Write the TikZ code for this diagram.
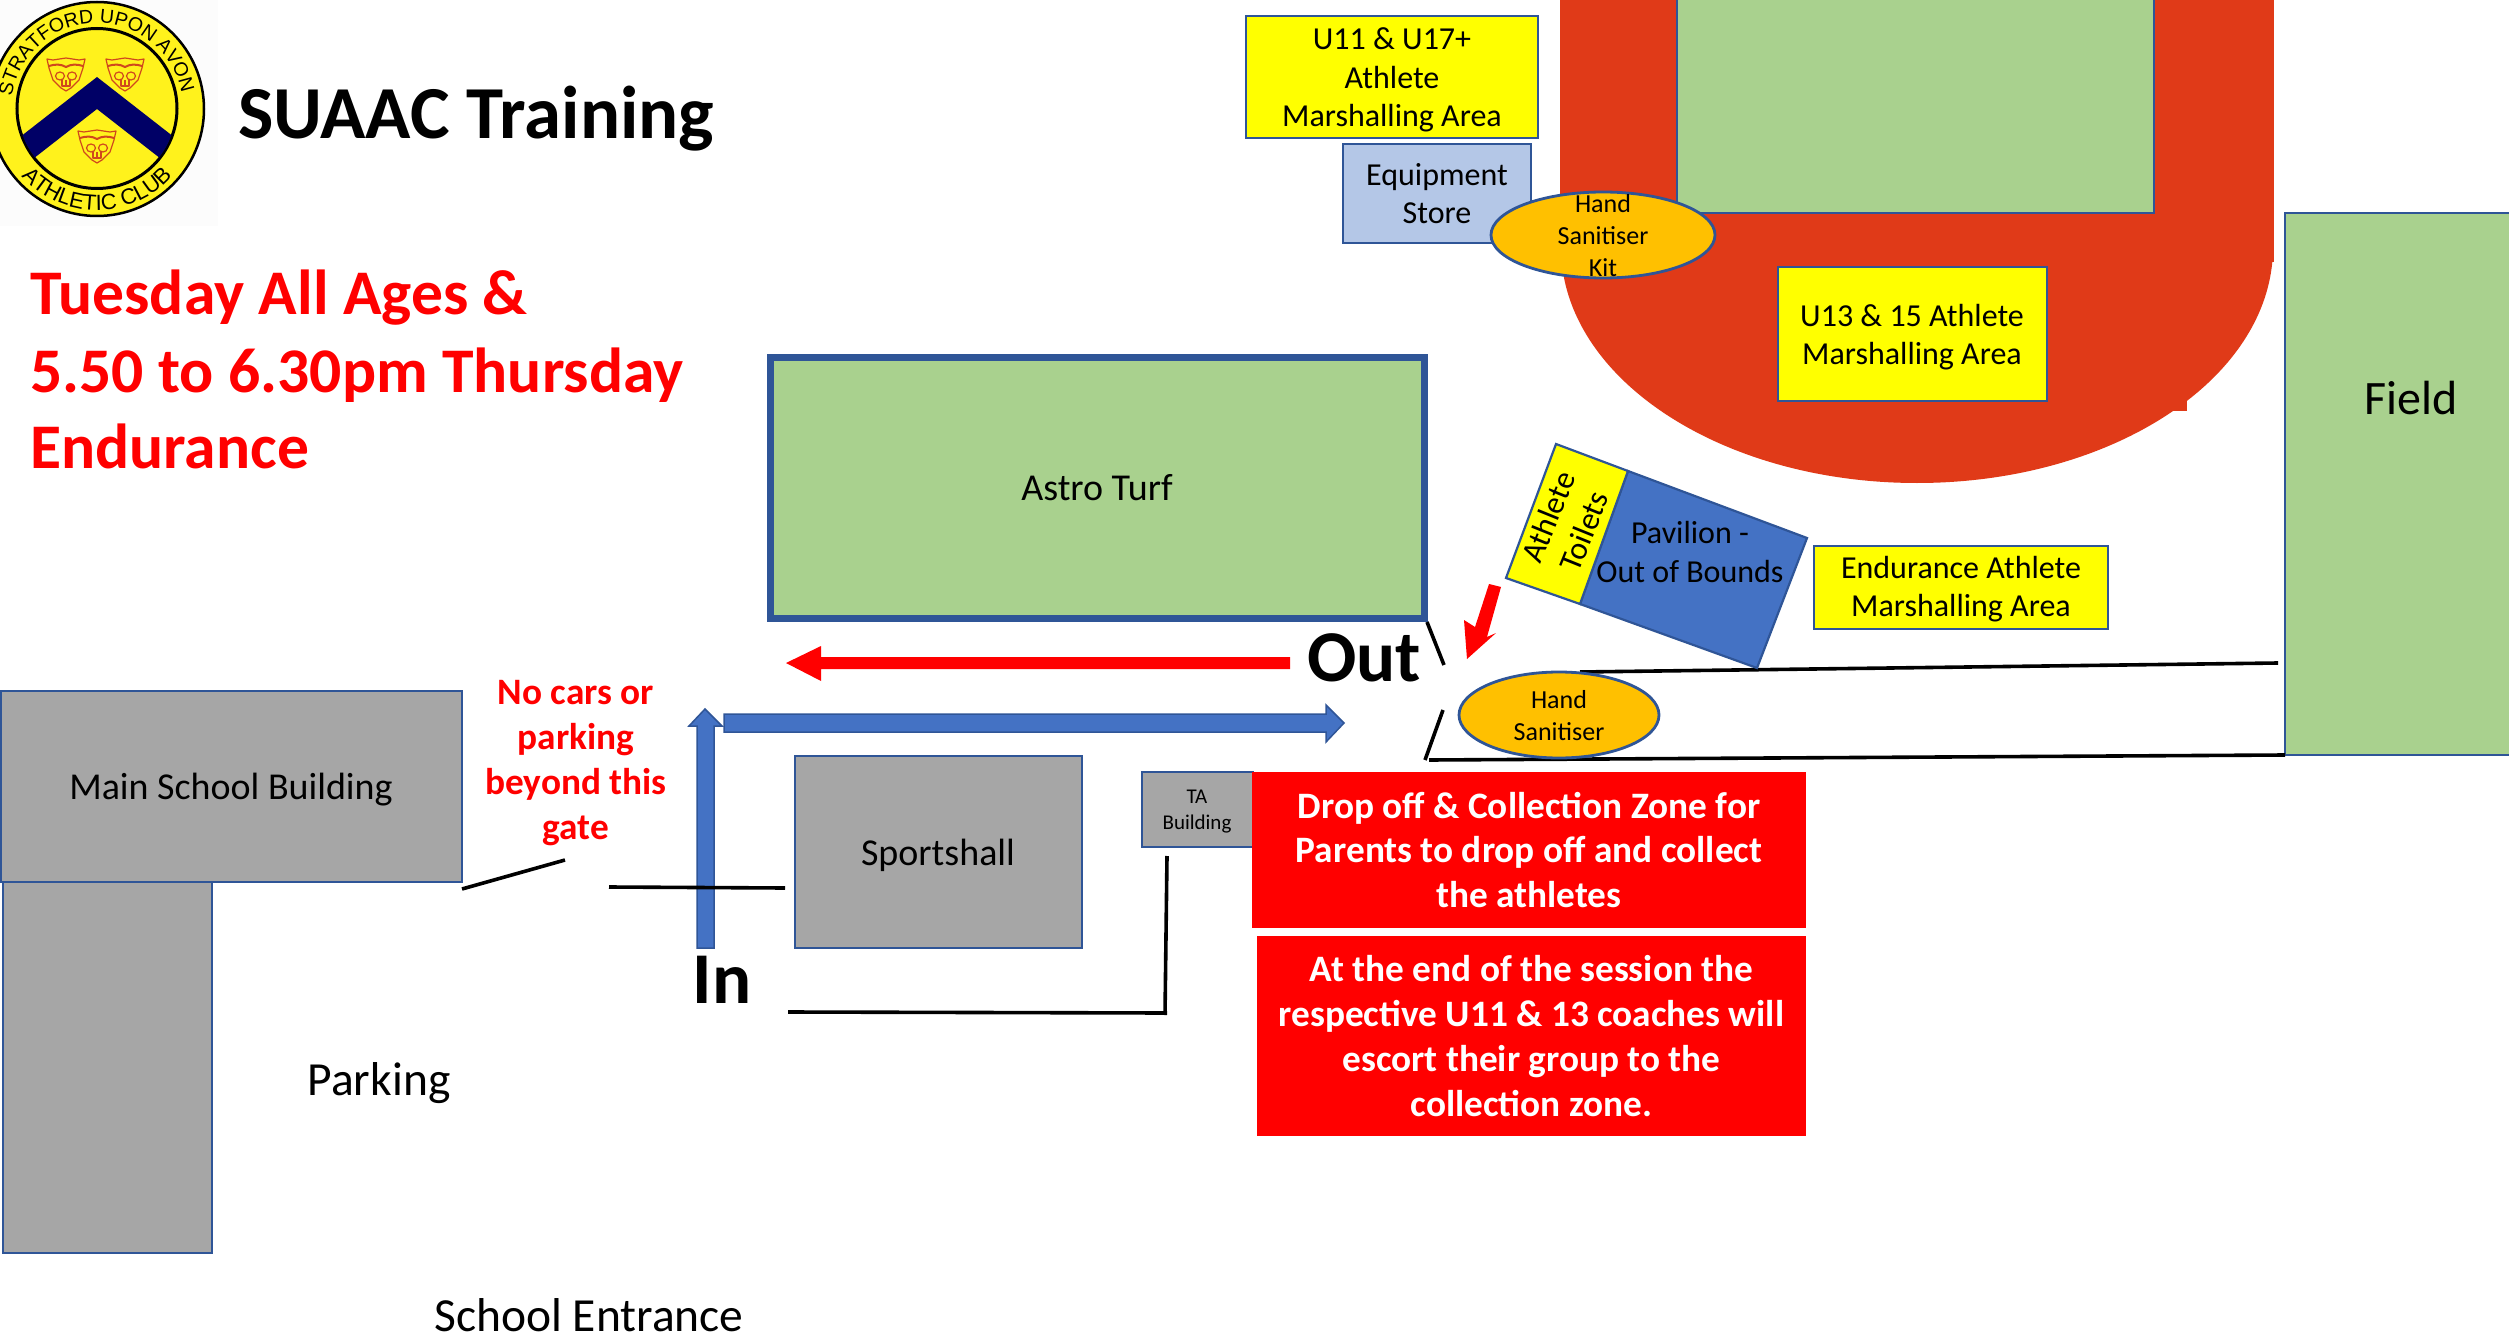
\documentclass[tikz,border=0pt]{standalone}
\usepackage{fontspec}
\setmainfont{Carlito}
\newfontfamily\logofont{Liberation Sans}
\usetikzlibrary{decorations.text}
\definecolor{edge}{HTML}{2F5597}
\definecolor{lawn}{HTML}{A9D18E}
\definecolor{track}{HTML}{E03A18}
\definecolor{greyb}{HTML}{A6A6A6}
\definecolor{paleb}{HTML}{B4C7E7}
\definecolor{midb}{HTML}{4472C4}
\definecolor{amber}{HTML}{FFC000}
\definecolor{logoy}{HTML}{FFF21C}
\definecolor{logon}{HTML}{000066}
\definecolor{logor}{HTML}{D0481C}
\definecolor{pureyellow}{RGB}{255,255,0}
\definecolor{purered}{RGB}{255,0,0}
\newcommand{\fs}[1]{\fontsize{#1}{#1}\selectfont}
\tikzset{
  x=1pt,y=-1pt,
  shape box/.style={draw=edge,line width=2.8pt},
  txt/.style={inner sep=0pt,align=center,font=\fontsize{32}{38.4}\selectfont,text=black},
  bigtxt/.style={inner sep=0pt,align=center,font=\fontsize{38}{38}\selectfont,text=black},
  smalltxt/.style={inner sep=0pt,align=center,font=\fontsize{26}{32}\selectfont,text=black},
  redhead/.style={inner sep=0pt,align=center,font=\fontsize{37.3}{44.8}\selectfont\bfseries,text=white},
  wall/.style={draw=black,line width=3.6pt},
  pantherline/.style={draw=logor,line width=1.2pt,line join=round},
}
\newcommand{\panther}[2]{%
\begin{scope}[shift={(#1,#2)}]
\draw[pantherline,fill=logoy] (-19,-15)--(-13,-14)--(0,-16)--(13,-14)--(19,-15)--(17,-6)--(13,6)--(5,14)--(0,17)--(-5,14)--(-13,6)--(-17,-6)--cycle;
\draw[draw=logor,line width=2pt] (-17,-8) .. controls (-11,-10) and (-5,-10) .. (0,-7) .. controls (5,-10) and (11,-10) .. (17,-8);
\draw[pantherline] (-6,2) ellipse [x radius=4.5,y radius=4];
\draw[pantherline] (6,2) ellipse [x radius=4.5,y radius=4];
\draw[pantherline] (-4,5)--(-4,12)--(4,12)--(4,5) (0,6)--(0,12);
\end{scope}}
\begin{document}
\begin{tikzpicture}
\useasboundingbox (0,0) rectangle (2509,1340);
\fill[white] (0,0) rectangle (2509,1340);

% logo
\fill[black!1] (0,0) rectangle (218,226);
\begin{scope}
\clip (0,0) rectangle (218,226);
\draw[fill=logoy,draw=black,line width=2.5pt] (97,109) circle [radius=107pt];
\draw[draw=black,line width=3pt] (97,108.5) circle [radius=80pt];
\begin{scope}
\clip (97,108.5) circle [radius=79pt];
\fill[logon] (97,77)--(197,155)--(197,187)--(97,109)--(-3,187)--(-3,155)--cycle;
\end{scope}
\end{scope}
\panther{66}{74}\panther{125}{74}\panther{97}{146}
\path[decorate,decoration={text along path,text align=center,text={|\logofont\fontsize{19.5}{19.5}\selectfont|STRATFORD UPON AVON}}]
  (97,109) ++(176:86pt) arc [start angle=176,end angle=6,radius=86pt];
\path[decorate,decoration={text along path,text align=center,text={|\logofont\fontsize{22}{22}\selectfont|ATHLETIC CLUB}}]
  (97,109) ++(215:101pt) arc [start angle=215,end angle=325,radius=101pt];

% titles
\node[anchor=base west,inner sep=0pt,font=\fs{74.8}\bfseries] (title) at (238,139) {SUAAC Training};
\node[anchor=base west,inner sep=0pt,font=\fs{63.6}\bfseries,text=purered] (when1) at (30,315) {Tuesday All Ages \&};
\node[anchor=base west,inner sep=0pt,font=\fs{63.6}\bfseries,text=purered] (when2) at (30,392) {5.50 to 6.30pm Thursday};
\node[anchor=base west,inner sep=0pt,font=\fs{63.6}\bfseries,text=purered] (when3) at (30,468) {Endurance};

% running track
\fill[track] (1560,0) rectangle (2274,262);
\fill[track] (1917,247) ellipse [x radius=356,y radius=236];
\fill[track] (2150,380) rectangle (2187,411);
\draw[shape box,fill=lawn] (1677,-5) rectangle (2154,213);

% top left boxes
\draw[shape box,fill=pureyellow] (1246,16) rectangle (1538,138);
\node[txt] (u11) at (1392,80) {U11 \& U17+\\Athlete\\Marshalling Area};
\draw[shape box,fill=paleb] (1343,144) rectangle node[txt] (store) {Equipment\\Store} (1531,243);
\draw[shape box,fill=amber] (1603,235) ellipse [x radius=112,y radius=43];
\node[smalltxt] (kit) at (1603,236) {Hand\\Sanitiser\\Kit};
\draw[shape box,fill=pureyellow] (1778,267) rectangle (2047,401);
\node[txt] (u13) at (1912,337) {U13 \& 15 Athlete\\Marshalling Area};

% field
\draw[shape box,fill=lawn] (2285,213) rectangle (2520,755);
\node[inner sep=0pt,font=\fs{48}] (field) at (2411,398) {Field};

% astro turf
\draw[draw=edge,line width=7pt,fill=lawn] (770,357) rectangle node[bigtxt] (astro) {Astro Turf} (1424,618);

% walls behind sanitiser
\draw[wall] (1580,672)--(2278,663);
\draw[wall] (1429,760)--(2285,755);
\draw[wall] (1427,622)--(1444,665);
\draw[wall] (1443,710)--(1425,760);

% pavilion
\draw[draw=edge,line width=2.2pt,fill=midb] (1628,471)--(1807,538)--(1757,668)--(1580,604)--cycle;
\draw[draw=edge,line width=2.2pt,fill=pureyellow] (1556,444)--(1628,471)--(1580,604)--(1506,578)--cycle;
\node[txt,rotate=68] (toilets) at (1566,524) {Athlete\\Toilets};
\node[txt] (pavilion) at (1690,552) {Pavilion -\\Out of Bounds};

% endurance marshalling
\draw[shape box,fill=pureyellow] (1814,546) rectangle (2108,629);
\node[txt] (endurance) at (1961,589) {Endurance Athlete\\Marshalling Area};

% hand sanitiser
\draw[shape box,fill=amber] (1559,715) ellipse [x radius=100,y radius=43];
\node[smalltxt] (sanit) at (1559,716) {Hand\\Sanitiser};

% red direction arrows
\fill[purered] (1290,657)--(821,657)--(821,646)--(786,663)--(821,681)--(821,669)--(1290,669)--cycle;
\fill[purered] (1489,584)--(1501,587)--(1487,637)--(1496,633)--(1467,659)--(1464,620)--(1475,627)--cycle;

% blue direction arrows
\draw[draw=edge,line width=1.5pt,fill=midb] (697,948)--(697,726)--(689,726)--(705,709)--(722,726)--(714,726)--(714,948)--cycle;
\draw[draw=edge,line width=1.5pt,fill=midb] (724,714)--(1326,714)--(1326,705)--(1344,723)--(1326,742)--(1326,732)--(724,732)--cycle;

\node[inner sep=0pt,font=\fs{73}\bfseries] (out) at (1364,658) {Out};
\node[inner sep=0pt,font=\fs{73}\bfseries] (in) at (722,980) {In};

% buildings
\draw[shape box,fill=greyb] (1,691) rectangle (462,882);
\node[bigtxt] (main) at (231,790) {Main School Building};
\draw[shape box,fill=greyb] (3,882) rectangle (212,1253);
\draw[shape box,fill=greyb] (795,756) rectangle (1082,948);
\node[bigtxt] (sports) at (938,855) {Sportshall};
\draw[shape box,fill=greyb] (1142,772) rectangle (1253,847);
\node[inner sep=0pt,align=center,font=\fontsize{21}{26}\selectfont] (ta) at (1197,812) {TA\\Building};

% gates and lane
\draw[wall] (462,889)--(565,860);
\draw[wall] (609,887)--(785,888);
\draw[wall] (1167,856)--(1165,1015);
\draw[wall] (788,1012)--(1167,1013);

\node[redhead,text=purered] (nocars) at (576,763) {No cars or\\parking\\beyond this\\gate};

% red panels
\fill[purered] (1252,772) rectangle node[redhead] (drop) {Drop off \& Collection Zone for\\Parents to drop off and collect\\the athletes} (1806,928);
\fill[purered] (1257,936) rectangle node[redhead] (end) {At the end of the session the\\respective U11 \& 13 coaches will\\escort their group to the\\collection zone.} (1806,1136);

\node[inner sep=0pt,font=\fs{47.5}] (parking) at (379,1083) {Parking};
\node[inner sep=0pt,font=\fs{47.5}] (entrance) at (589,1315) {School Entrance};
\end{tikzpicture}
\end{document}
